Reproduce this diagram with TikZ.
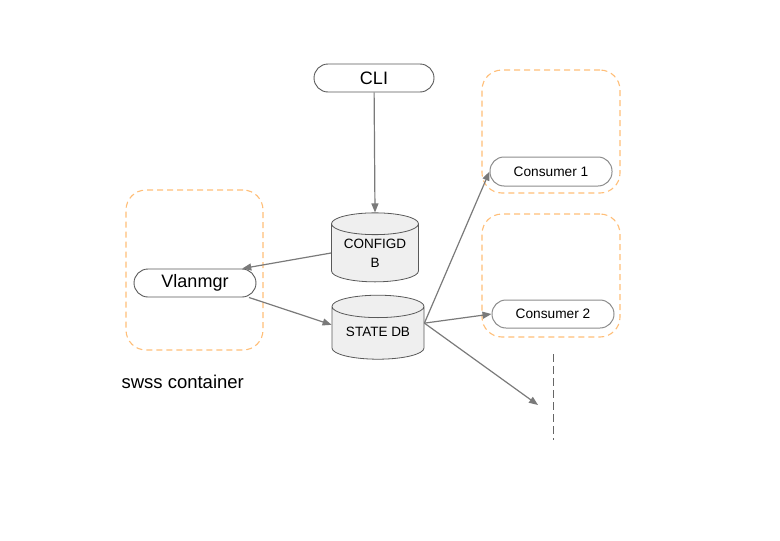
\documentclass[tikz,border=0pt]{standalone}
\usepackage{fontspec}
\setmainfont{Liberation Sans}
\usetikzlibrary{arrows.meta,shapes.geometric}
\definecolor{pillline}{HTML}{595959}
\definecolor{pilllight}{HTML}{8C8C8C}
\definecolor{arrowgray}{HTML}{7A7A7A}
\definecolor{dashgray}{HTML}{666666}
\definecolor{orangedash}{HTML}{FFBE78}
\definecolor{dbfill}{HTML}{EFEFEF}
\begin{document}
\begin{tikzpicture}[x=1pt,y=-1pt,
  pill/.style={draw=pillline,line width=0.9pt,rounded corners=14pt,fill=white,inner sep=0pt},
  pilllt/.style={draw=pilllight,line width=1pt,rounded corners=14pt,fill=white,inner sep=0pt,font=\fontsize{13.7}{15}\selectfont},
  dbcyl/.style={cylinder,shape border rotate=90,aspect=0.35,draw=pillline,line width=0.8pt,fill=dbfill,inner sep=0pt,align=center,font=\fontsize{13.5}{19}\selectfont},
  container/.style={draw=orangedash,line width=1.1pt,dash pattern=on 6pt off 4pt,rounded corners=20pt},
  flow/.style={draw=arrowgray,line width=1.2pt,-{Triangle[length=9pt,width=7pt]}},
]
\useasboundingbox (0,0) rectangle (780,541);
% containers
\node[container,minimum width=137pt,minimum height=160pt] (swss) at (194.5,270) {};
\node[container,minimum width=138pt,minimum height=123pt] (c1box) at (551,131.5) {};
\node[container,minimum width=138pt,minimum height=123pt] (c2box) at (551,275.5) {};
\node[anchor=west,font=\fontsize{18.5}{20}\selectfont] (swsslabel) at (118,382) {swss container};
% pills
\node[pill,minimum width=120pt,minimum height=28pt,font=\fontsize{18}{20}\selectfont] (cli) at (374,78) {CLI};
\node[pill,minimum width=122pt,minimum height=28pt,font=\fontsize{18}{20}\selectfont] (vlan) at (195,283) {Vlanmgr\hspace{18pt}};
\node[pilllt,minimum width=122pt,minimum height=29pt] (cons1) at (551,171.5) {Consumer 1\hspace{13pt}};
\node[pilllt,minimum width=122pt,minimum height=28pt] (cons2) at (553,314) {Consumer 2\hspace{12pt}};
% databases
\node[dbcyl,minimum width=87pt,minimum height=69pt] (configdb) at (375,253) {\rule{0pt}{10pt}CONFIGD\\B};
\node[dbcyl,minimum width=92pt,minimum height=64pt] (statedb) at (378,333) {\raisebox{2pt}{STATE DB}};
% open end
\coordinate (more) at (538,405);
\coordinate (dashtop) at (553,354);
\coordinate (dashbot) at (553,440);
\draw[draw=dashgray,line width=1pt,dash pattern=on 8pt off 4pt] (dashtop) -- (dashbot);
% connectors
\draw[flow] (cli) -- (configdb.north);
\draw[flow] (configdb.west) -- (vlan.17);
\draw[flow] (vlan.-15) -- (statedb.170);
\draw[flow] (statedb.12) -- (cons1.west);
\draw[flow] (statedb.12) -- (cons2.west);
\draw[flow] (statedb.12) -- (more);
\end{tikzpicture}
\end{document}
